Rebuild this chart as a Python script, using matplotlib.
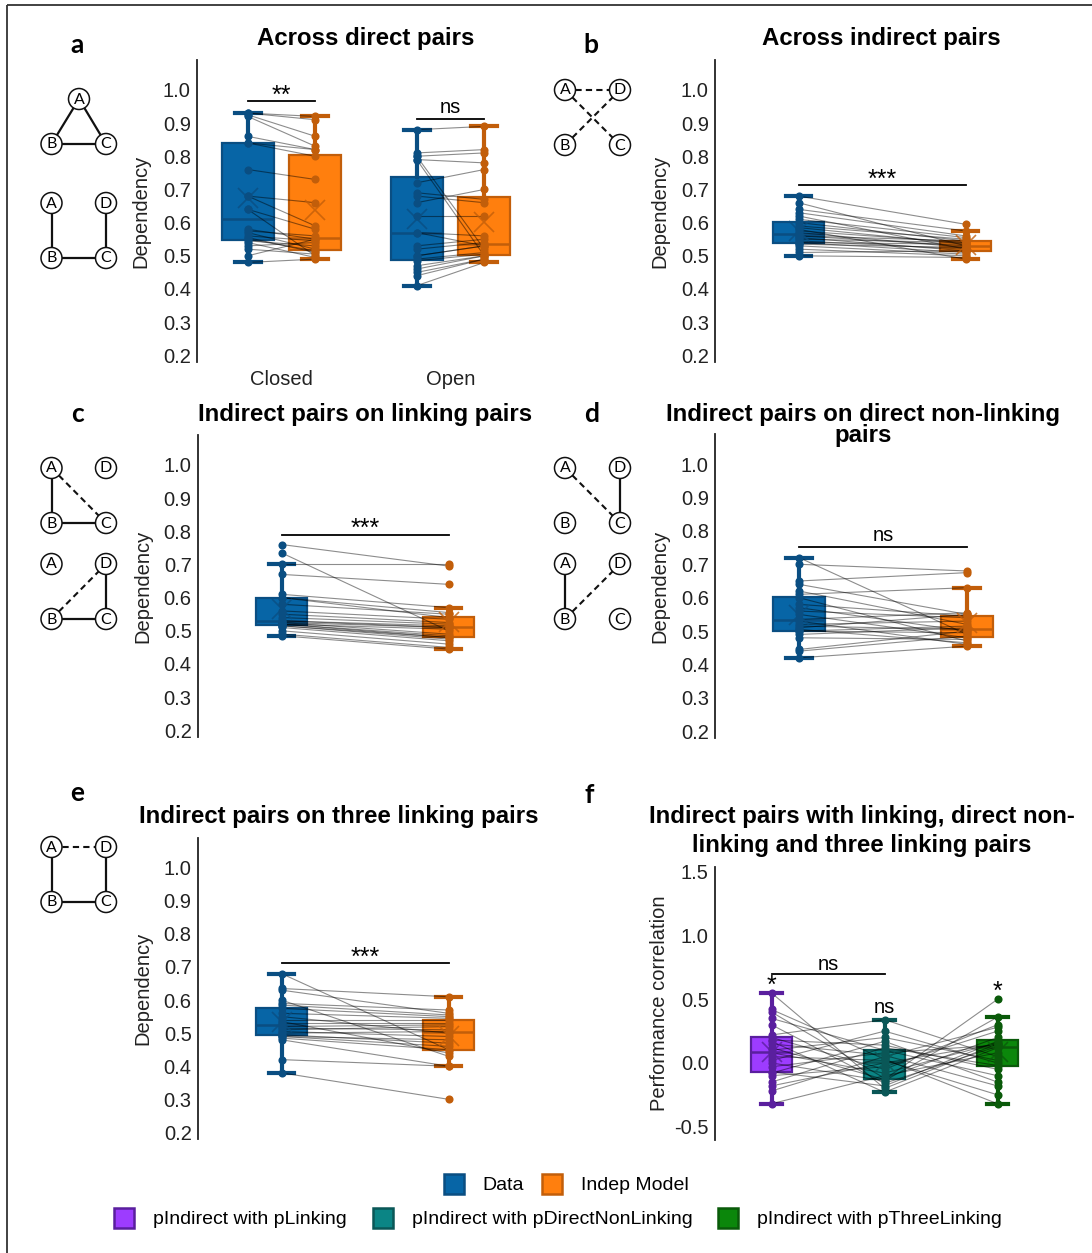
import numpy as np
import matplotlib.pyplot as plt
from matplotlib.patches import Circle, Patch, Rectangle

plt.rcParams['font.family'] = ['Liberation Sans', 'DejaVu Sans']

# ---- data: one value per subject, same subject order across paired groups ----
closed_data = [0.93, 0.93, 0.925, 0.92, 0.86, 0.84, 0.84, 0.76, 0.68, 0.68, 0.64, 0.64,
               0.58, 0.575, 0.57, 0.56, 0.555, 0.55, 0.545, 0.54, 0.53, 0.52, 0.50, 0.48]
closed_model = [0.92, 0.91, 0.86, 0.83, 0.82, 0.82, 0.80, 0.73, 0.66, 0.59, 0.50, 0.58,
                0.55, 0.56, 0.52, 0.545, 0.51, 0.515, 0.53, 0.495, 0.54, 0.505, 0.55, 0.49]
open_data = [0.88, 0.81, 0.80, 0.80, 0.79, 0.79, 0.72, 0.69, 0.68, 0.66, 0.62, 0.57,
             0.57, 0.53, 0.52, 0.50, 0.50, 0.49, 0.485, 0.47, 0.46, 0.45, 0.44, 0.41]
open_model = [0.89, 0.82, 0.81, 0.52, 0.78, 0.50, 0.76, 0.67, 0.66, 0.70, 0.62, 0.56,
              0.53, 0.55, 0.54, 0.53, 0.53, 0.51, 0.505, 0.50, 0.50, 0.49, 0.49, 0.48]

indirect_data = [0.68, 0.66, 0.64, 0.63, 0.62, 0.61, 0.60, 0.59, 0.585, 0.58, 0.575, 0.57,
                 0.56, 0.56, 0.555, 0.55, 0.545, 0.54, 0.54, 0.535, 0.53, 0.52, 0.51, 0.50]
indirect_model = [0.595, 0.53, 0.575, 0.56, 0.52, 0.555, 0.545, 0.55, 0.535, 0.49, 0.54, 0.525,
                  0.545, 0.53, 0.515, 0.54, 0.52, 0.535, 0.51, 0.525, 0.505, 0.50, 0.515, 0.495]

linking_data = [0.76, 0.735, 0.70, 0.67, 0.61, 0.60, 0.60, 0.58, 0.56, 0.55, 0.54, 0.53,
                0.53, 0.525, 0.525, 0.52, 0.52, 0.52, 0.515, 0.515, 0.51, 0.50, 0.49, 0.485]
linking_model = [0.695, 0.50, 0.70, 0.64, 0.57, 0.555, 0.54, 0.55, 0.535, 0.525, 0.52, 0.515,
                 0.51, 0.51, 0.49, 0.505, 0.485, 0.48, 0.48, 0.475, 0.47, 0.46, 0.45, 0.445]

nonlinking_data = [0.72, 0.70, 0.65, 0.64, 0.62, 0.61, 0.60, 0.58, 0.57, 0.56, 0.55, 0.535,
                   0.53, 0.52, 0.515, 0.51, 0.505, 0.50, 0.50, 0.49, 0.48, 0.445, 0.44, 0.42]
nonlinking_model = [0.49, 0.68, 0.675, 0.55, 0.52, 0.63, 0.47, 0.545, 0.50, 0.54, 0.48, 0.555,
                    0.46, 0.53, 0.505, 0.55, 0.465, 0.515, 0.495, 0.51, 0.475, 0.50, 0.485, 0.455]

three_data = [0.68, 0.635, 0.63, 0.60, 0.59, 0.585, 0.575, 0.56, 0.55, 0.54, 0.535, 0.53,
              0.52, 0.515, 0.51, 0.505, 0.50, 0.495, 0.49, 0.49, 0.485, 0.48, 0.42, 0.38]
three_model = [0.45, 0.61, 0.56, 0.43, 0.57, 0.555, 0.55, 0.545, 0.50, 0.54, 0.44, 0.53,
               0.525, 0.51, 0.52, 0.49, 0.505, 0.47, 0.48, 0.46, 0.45, 0.40, 0.40, 0.30]

corr_linking = [0.55, 0.42, 0.40, 0.35, 0.30, 0.22, 0.20, 0.18, 0.17, 0.15, 0.12, 0.10,
                0.08, 0.05, 0.02, 0.0, -0.03, -0.07, -0.08, -0.10, -0.15, -0.18, -0.22, -0.32]
corr_nonlinking = [-0.20, 0.03, -0.12, 0.10, -0.16, 0.34, -0.05, 0.14, -0.23, 0.06, -0.13, 0.20,
                   -0.08, 0.02, 0.25, -0.14, 0.08, -0.18, 0.17, -0.03, 0.12, 0.0, 0.05, -0.10]
corr_three = [0.15, -0.32, 0.20, -0.10, 0.13, 0.05, 0.30, -0.05, 0.12, -0.18, 0.50, 0.02,
              0.16, -0.25, 0.0, 0.36, 0.14, 0.17, -0.15, 0.25, -0.02, 0.15, 0.28, 0.08]

dep_ticks = [0.2, 0.3, 0.4, 0.5, 0.6, 0.7, 0.8, 0.9, 1.0]
dep_ticklabels = ['0.2', '0.3', '0.4', '0.5', '0.6', '0.7', '0.8', '0.9', '1.0']
corr_ticks = [-0.5, 0.0, 0.5, 1.0, 1.5]
corr_ticklabels = ['-0.5', '0.0', '0.5', '1.0', '1.5']
a_groups = ['Closed', 'Open']
legend_top = ['Data', 'Indep Model']
legend_bottom = ['pIndirect with pLinking', 'pIndirect with pDirectNonLinking',
                 'pIndirect with pThreeLinking']

BLUE, BLUE_E = '#0765a6', '#0a4e82'
ORANGE, ORANGE_E = '#ff7f0e', '#c25e0a'
PURPLE, PURPLE_E = '#9d3cff', '#5a1f9e'
TEAL, TEAL_E = '#0b8585', '#0a5757'
GREEN, GREEN_E = '#0b870b', '#0a5a0a'

W, H = 1092, 1253
fig = plt.figure(figsize=(W / 100, H / 100), dpi=100)

# overlay in pixel coordinates for border, letters, titles and diagrams
ov = fig.add_axes([0, 0, 1, 1])
ov.set_xlim(0, W)
ov.set_ylim(H, 0)
ov.axis('off')
ov.add_patch(Rectangle((7, 5), 1300, 1400, fill=False, lw=1.3, ec='#333333'))


def px_axes(left, top, right, bottom):
    return fig.add_axes([left / W, 1 - bottom / H, (right - left) / W, (bottom - top) / H])


def style_axis(ax, ylim, ticks, labels, ylabel, xlim):
    ax.set_xlim(xlim)
    ax.set_ylim(ylim)
    ax.set_yticks(ticks)
    ax.set_yticklabels(labels)
    for s in ['top', 'right', 'bottom']:
        ax.spines[s].set_visible(False)
    ax.spines['left'].set_linewidth(1.3)
    ax.spines['left'].set_color('#222222')
    ax.tick_params(axis='y', length=0, pad=4.5, labelsize=14.5, labelcolor='#222222')
    ax.tick_params(axis='x', length=0, pad=6, labelsize=14.5, labelcolor='#222222')
    ax.set_xticks([])
    ax.set_ylabel(ylabel, fontsize=14.5, color='#222222')
    ax.yaxis.set_label_coords(-0.137, 0.5)
    ax.patch.set_alpha(0)


def paired_boxes(ax, groups, xs, fills, edges, width):
    for i in range(len(groups[0])):
        ax.plot(xs, [g[i] for g in groups], color='black', alpha=0.45, lw=0.8, zorder=3)
    bp = ax.boxplot(groups, positions=xs, widths=width, patch_artist=True,
                    showfliers=False, showmeans=True, capwidths=width * 0.5,
                    manage_ticks=False)
    for j in range(len(groups)):
        bp['boxes'][j].set(facecolor=fills[j], edgecolor=edges[j], linewidth=1.6, zorder=2)
        bp['medians'][j].set(color=edges[j], linewidth=1.8, zorder=2.5)
        for w in bp['whiskers'][2 * j:2 * j + 2]:
            w.set(color=edges[j], linewidth=3, zorder=2.5)
        for c in bp['caps'][2 * j:2 * j + 2]:
            c.set(color=edges[j], linewidth=3, zorder=2.5)
        bp['means'][j].set(marker='x', markeredgecolor=edges[j], markersize=15,
                           markeredgewidth=1.2, alpha=0.8, zorder=5)
        ax.scatter(np.full(len(groups[j]), xs[j]), groups[j], s=34, color=edges[j],
                   zorder=4, linewidths=0)


def bracket(ax, x1, x2, y, text, dy):
    ax.plot([x1, x2], [y, y], color='black', lw=1.3)
    size = 18 if '*' in text else 14.5
    ax.text((x1 + x2) / 2, y + dy, text, ha='center', va='baseline', fontsize=size)


def draw_graph(nodes, solid, dashed):
    for a, b in solid:
        ov.plot([nodes[a][0], nodes[b][0]], [nodes[a][1], nodes[b][1]],
                color='#111111', lw=1.6, zorder=1)
    for a, b in dashed:
        ov.plot([nodes[a][0], nodes[b][0]], [nodes[a][1], nodes[b][1]],
                color='#111111', lw=1.5, ls=(0, (3, 2)), zorder=1)
    for name, (x, y) in nodes.items():
        ov.add_patch(Circle((x, y), 10.5, facecolor='white', edgecolor='#111111', lw=1.1, zorder=2))
        ov.text(x, y + 0.5, name, ha='center', va='center', fontsize=11.5,
                family=['Lato', 'DejaVu Sans'], zorder=3)


def sq(x0, y0, dx):
    return {'A': (x0, y0), 'D': (x0 + dx, y0), 'B': (x0, y0 + 55), 'C': (x0 + dx, y0 + 55)}


dep_ylim = (0.18, 1.09)
two_x = (0.5, 2.5)
STAR_DY = -0.004

# ---- panel a ----
ax = px_axes(197, 60, 535, 362)
paired_boxes(ax, [closed_data, closed_model], [0.8, 1.2], [BLUE, ORANGE], [BLUE_E, ORANGE_E], 0.31)
paired_boxes(ax, [open_data, open_model], [1.8, 2.2], [BLUE, ORANGE], [BLUE_E, ORANGE_E], 0.31)
style_axis(ax, dep_ylim, dep_ticks, dep_ticklabels, 'Dependency', two_x)
ax.set_xticks([1, 2])
ax.set_xticklabels(a_groups)
bracket(ax, 0.8, 1.2, 0.965, '**', -0.004)
bracket(ax, 1.8, 2.2, 0.913, 'ns', 0.0175)

# ---- panel b ----
ax = px_axes(715, 60, 1049, 362)
paired_boxes(ax, [indirect_data, indirect_model], [1, 2], [BLUE, ORANGE], [BLUE_E, ORANGE_E], 0.31)
style_axis(ax, dep_ylim, dep_ticks, dep_ticklabels, 'Dependency', two_x)
bracket(ax, 1, 2, 0.712, '***', STAR_DY)

# ---- panel c ----
ax = px_axes(198, 435, 532, 737)
paired_boxes(ax, [linking_data, linking_model], [1, 2], [BLUE, ORANGE], [BLUE_E, ORANGE_E], 0.31)
style_axis(ax, dep_ylim, dep_ticks, dep_ticklabels, 'Dependency', two_x)
bracket(ax, 1, 2, 0.79, '***', STAR_DY)

# ---- panel d ----
ax = px_axes(715, 434, 1051, 738)
paired_boxes(ax, [nonlinking_data, nonlinking_model], [1, 2], [BLUE, ORANGE], [BLUE_E, ORANGE_E], 0.31)
style_axis(ax, dep_ylim, dep_ticks, dep_ticklabels, 'Dependency', two_x)
bracket(ax, 1, 2, 0.751, 'ns', 0.0195)

# ---- panel e ----
ax = px_axes(198, 838, 532, 1139)
paired_boxes(ax, [three_data, three_model], [1, 2], [BLUE, ORANGE], [BLUE_E, ORANGE_E], 0.31)
style_axis(ax, dep_ylim, dep_ticks, dep_ticklabels, 'Dependency', two_x)
bracket(ax, 1, 2, 0.711, '***', STAR_DY)

# ---- panel f ----
ax = px_axes(715, 867, 1054, 1140)
paired_boxes(ax, [corr_linking, corr_nonlinking, corr_three], [1, 2, 3],
             [PURPLE, TEAL, GREEN], [PURPLE_E, TEAL_E, GREEN_E], 0.37)
style_axis(ax, (-0.605, 1.539), corr_ticks, corr_ticklabels, 'Performance correlation', (0.5, 3.5))
bracket(ax, 1, 2, 0.70, 'ns', 0.03)
ax.text(1, 0.553, '*', ha='center', va='baseline', fontsize=18)
ax.text(2, 0.391, 'ns', ha='center', va='baseline', fontsize=14.5)
ax.text(3, 0.506, '*', ha='center', va='baseline', fontsize=18)

# ---- titles and panel letters ----
titles = [(366, 39, 'Across direct pairs', 1.0),
          (881, 39, 'Across indirect pairs', 1.0),
          (365, 415, 'Indirect pairs on linking pairs', 1.0),
          (863, 425, 'Indirect pairs on direct non-linking\npairs', 0.93),
          (339, 817, 'Indirect pairs on three linking pairs', 1.0),
          (862, 831, 'Indirect pairs with linking, direct non-\nlinking and three linking pairs', 1.29)]
for x, y, t, ls in titles:
    ov.text(x, y, t, ha='center', va='center', fontsize=17.3, fontweight='bold', linespacing=ls)

letters = [(77, 45, 'a'), (591, 45, 'b'), (77, 414, 'c'), (592, 414, 'd'),
           (77, 793, 'e'), (589, 795, 'f')]
for x, y, t in letters:
    ov.text(x, y, t, ha='center', va='center', fontsize=19, fontweight='bold',
            family=['Lato', 'DejaVu Sans'])

# ---- network diagrams ----
draw_graph({'A': (79, 99), 'B': (51.5, 144), 'C': (106, 144)},
           [('A', 'B'), ('A', 'C'), ('B', 'C')], [])
draw_graph(sq(51.5, 203, 54.5), [('A', 'B'), ('B', 'C'), ('C', 'D')], [])
draw_graph(sq(565, 90, 55), [], [('A', 'D'), ('A', 'C'), ('B', 'D')])
draw_graph(sq(51.5, 468, 54.5), [('A', 'B'), ('B', 'C')], [('A', 'C')])
draw_graph(sq(51.5, 564, 54.5), [('D', 'C'), ('B', 'C')], [('B', 'D')])
draw_graph(sq(565, 468, 55), [('D', 'C')], [('A', 'C')])
draw_graph(sq(565, 564, 55), [('A', 'B')], [('B', 'D')])
draw_graph(sq(51.5, 847, 54.5), [('A', 'B'), ('B', 'C'), ('C', 'D')], [('A', 'D')])

# ---- legends ----
top_handles = [Patch(facecolor=BLUE, edgecolor=BLUE_E, lw=1.8, label=legend_top[0]),
               Patch(facecolor=ORANGE, edgecolor=ORANGE_E, lw=1.8, label=legend_top[1])]
bottom_handles = [Patch(facecolor=c, edgecolor=e, lw=1.8, label=l)
                  for c, e, l in zip([PURPLE, TEAL, GREEN], [PURPLE_E, TEAL_E, GREEN_E], legend_bottom)]
leg_kw = dict(loc='center', frameon=False, fontsize=14, handlelength=1.03, handleheight=1.24,
              handletextpad=0.98)
fig.legend(handles=top_handles, ncol=2, bbox_to_anchor=(566 / W, 1 - 1184 / H),
           columnspacing=0.9, **leg_kw)
fig.legend(handles=bottom_handles, ncol=3, bbox_to_anchor=(558 / W, 1 - 1218 / H),
           columnspacing=1.34, **leg_kw)

fig.savefig('out.png', dpi=100)
